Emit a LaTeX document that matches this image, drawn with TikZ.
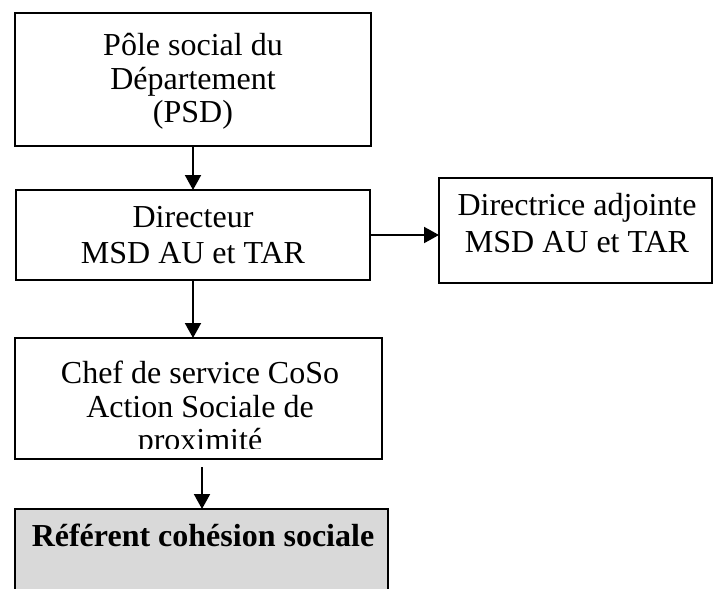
\documentclass[tikz,border=0pt]{standalone}
\usepackage{fontspec}
\setmainfont{Liberation Serif}
\usetikzlibrary{arrows.meta}
\definecolor{boxgray}{RGB}{217,217,217}
\begin{document}
\begin{tikzpicture}[x=1pt,y=-1pt,
  box/.style={draw, line width=2pt, inner sep=0pt, outer sep=0pt},
  lbl/.style={anchor=base, inner sep=0pt, font=\fontsize{32}{34}\selectfont},
  blbl/.style={lbl, font=\fontsize{32}{34}\selectfont\bfseries},
  arr/.style={line width=2pt, -{Triangle[length=15pt,width=16pt]}}]
\clip (0,0) rectangle (715,589);
% boxes
\node[box, minimum width=356pt, minimum height=133pt] (psd) at (193,79.5) {};
\node[box, minimum width=354pt, minimum height=90pt] (dir) at (193,235) {};
\node[box, minimum width=273pt, minimum height=105pt] (adj) at (575.5,230.5) {};
\node[box, minimum width=367pt, minimum height=121pt] (chef) at (198.5,398.5) {};
\node[box, fill=boxgray, minimum width=373pt, minimum height=95pt] (ref) at (201.5,556.5) {};
% texts
\node[lbl] (t1a) at (193,55) {Pôle social du};
\node[lbl] (t1b) at (193,89) {Département};
\node[lbl] (t1c) at (193,122) {(PSD)};
\node[lbl] (t2a) at (193,227) {Directeur};
\node[lbl] (t2b) at (193,263) {MSD AU et TAR};
\node[lbl] (t3a) at (577,215) {Directrice adjointe};
\node[lbl] (t3b) at (577,252) {MSD AU et TAR};
\node[lbl] (t4a) at (200,383) {Chef de service CoSo};
\node[lbl] (t4b) at (200,417) {Action Sociale de};
\begin{scope}
\clip (20,420) rectangle (380,448);
\node[lbl] (t4c) at (200,450) {proximité};
\end{scope}
\node[blbl] (t5) at (203,546) {Référent cohésion sociale};
% connectors
\draw[arr] (psd.south) -- (dir.north);
\draw[arr] (dir.east) -- (adj.west |- dir.east);
\draw[arr] (dir.south) -- (dir.south |- chef.north);
\draw[arr] ([xshift=3.5pt,yshift=-8pt]chef.south) -- ([xshift=0.5pt]ref.north);
\end{tikzpicture}
\end{document}
